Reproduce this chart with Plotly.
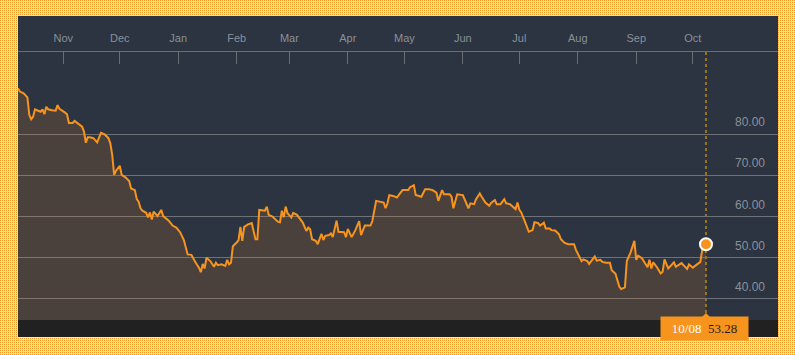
import base64
import pandas as pd
import plotly.graph_objects as go

dates = [
    "2014-10-08", "2014-10-09", "2014-10-11", "2014-10-13", "2014-10-14", "2014-10-15", "2014-10-16",
    "2014-10-17", "2014-10-19", "2014-10-20", "2014-10-21", "2014-10-22", "2014-10-23", "2014-10-24",
    "2014-10-26", "2014-10-28", "2014-10-29", "2014-10-30", "2014-11-02", "2014-11-03", "2014-11-04",
    "2014-11-06", "2014-11-07", "2014-11-09", "2014-11-11", "2014-11-12", "2014-11-13", "2014-11-14",
    "2014-11-15", "2014-11-17", "2014-11-19", "2014-11-21", "2014-11-23", "2014-11-25", "2014-11-26",
    "2014-11-27", "2014-11-28", "2014-11-29", "2014-12-01", "2014-12-02", "2014-12-04", "2014-12-06",
    "2014-12-07", "2014-12-09", "2014-12-10", "2014-12-11", "2014-12-12", "2014-12-13", "2014-12-15",
    "2014-12-16", "2014-12-17", "2014-12-18", "2014-12-19", "2014-12-21", "2014-12-23", "2014-12-24",
    "2014-12-27", "2014-12-29", "2014-12-31", "2015-01-02", "2015-01-04", "2015-01-06", "2015-01-08",
    "2015-01-10", "2015-01-12", "2015-01-13", "2015-01-14", "2015-01-15", "2015-01-16", "2015-01-18",
    "2015-01-20", "2015-01-21", "2015-01-22", "2015-01-24", "2015-01-26", "2015-01-27", "2015-01-28",
    "2015-01-29", "2015-01-30", "2015-02-01", "2015-02-02", "2015-02-03", "2015-02-04", "2015-02-05",
    "2015-02-07", "2015-02-09", "2015-02-11", "2015-02-12", "2015-02-13", "2015-02-16", "2015-02-17",
    "2015-02-18", "2015-02-20", "2015-02-23", "2015-02-24", "2015-02-25", "2015-02-26", "2015-02-27",
    "2015-02-28", "2015-03-02", "2015-03-03", "2015-03-05", "2015-03-07", "2015-03-08", "2015-03-10",
    "2015-03-11", "2015-03-12", "2015-03-13", "2015-03-15", "2015-03-16", "2015-03-18", "2015-03-19",
    "2015-03-20", "2015-03-22", "2015-03-23", "2015-03-24", "2015-03-26", "2015-03-27", "2015-03-30",
    "2015-03-31", "2015-04-01", "2015-04-03", "2015-04-05", "2015-04-07", "2015-04-08", "2015-04-10",
    "2015-04-13", "2015-04-14", "2015-04-16", "2015-04-19", "2015-04-20", "2015-04-21", "2015-04-22",
    "2015-04-23", "2015-04-25", "2015-04-27", "2015-04-30", "2015-05-03", "2015-05-04", "2015-05-06",
    "2015-05-07", "2015-05-10", "2015-05-12", "2015-05-14", "2015-05-16", "2015-05-18", "2015-05-19",
    "2015-05-21", "2015-05-22", "2015-05-25", "2015-05-26", "2015-05-27", "2015-05-29", "2015-06-01",
    "2015-06-02", "2015-06-04", "2015-06-05", "2015-06-07", "2015-06-08", "2015-06-10", "2015-06-11",
    "2015-06-13", "2015-06-15", "2015-06-16", "2015-06-18", "2015-06-19", "2015-06-21", "2015-06-23",
    "2015-06-24", "2015-06-26", "2015-06-29", "2015-06-30", "2015-07-01", "2015-07-02", "2015-07-04",
    "2015-07-06", "2015-07-08", "2015-07-09", "2015-07-11", "2015-07-12", "2015-07-14", "2015-07-15",
    "2015-07-17", "2015-07-18", "2015-07-20", "2015-07-22", "2015-07-23", "2015-07-25", "2015-07-27",
    "2015-07-30", "2015-07-31", "2015-08-02", "2015-08-03", "2015-08-04", "2015-08-06", "2015-08-07",
    "2015-08-10", "2015-08-11", "2015-08-13", "2015-08-14", "2015-08-16", "2015-08-18", "2015-08-19",
    "2015-08-21", "2015-08-22", "2015-08-23", "2015-08-24", "2015-08-26", "2015-08-27", "2015-08-29",
    "2015-08-31", "2015-09-01", "2015-09-02", "2015-09-04", "2015-09-07", "2015-09-08", "2015-09-09",
    "2015-09-10", "2015-09-12", "2015-09-14", "2015-09-15", "2015-09-16", "2015-09-18", "2015-09-21",
    "2015-09-22", "2015-09-25", "2015-09-28", "2015-09-29", "2015-10-01", "2015-10-03", "2015-10-05",
    "2015-10-06", "2015-10-07", "2015-10-08",
]

prices = [
    91.1, 90.3, 89.9, 88.9, 84.6, 83.6, 84.2,
    86.0, 85.6, 85.4, 86.0, 84.8, 86.6, 86.0,
    85.8, 85.7, 87.0, 86.1, 85.2, 84.8, 82.7,
    82.7, 83.2, 82.6, 81.8, 80.6, 77.9, 79.2,
    79.2, 79.0, 78.0, 80.3, 79.9, 79.0, 77.7,
    74.9, 70.1, 71.1, 72.3, 70.1, 69.5, 68.6,
    66.8, 66.4, 64.2, 63.6, 62.0, 61.4, 60.9,
    59.8, 61.0, 59.3, 61.2, 60.1, 61.6, 60.1,
    59.0, 57.8, 57.3, 56.2, 54.3, 50.8, 50.7,
    49.0, 47.6, 46.5, 48.5, 47.4, 50.0, 49.2,
    47.8, 48.8, 48.2, 48.4, 48.0, 49.5, 48.4,
    48.8, 52.8, 53.7, 54.3, 57.5, 54.1, 57.5,
    58.1, 58.4, 54.5, 54.5, 61.6, 61.4, 62.4,
    60.4, 60.0, 58.7, 58.6, 61.4, 59.8, 62.4,
    60.8, 59.8, 60.9, 60.4, 59.3, 58.6, 56.5,
    57.3, 56.9, 54.5, 54.1, 53.3, 55.8, 54.3,
    55.3, 55.5, 55.9, 55.0, 59.0, 56.3, 56.2,
    55.0, 57.0, 55.0, 56.7, 58.9, 55.5, 57.8,
    57.8, 58.9, 63.8, 63.4, 63.4, 62.0, 63.2,
    65.2, 65.0, 64.6, 66.4, 66.4, 67.1, 67.6,
    65.2, 64.8, 66.6, 66.6, 66.4, 65.8, 63.8,
    66.4, 65.4, 65.4, 64.8, 62.0, 65.4, 65.2,
    64.2, 62.0, 63.2, 63.0, 64.2, 65.6, 64.8,
    63.4, 62.6, 63.3, 64.0, 63.0, 63.0, 64.2,
    63.2, 63.0, 61.8, 63.4, 61.6, 61.0, 58.7,
    56.3, 56.7, 58.6, 58.4, 57.8, 58.5, 57.1,
    57.1, 56.7, 56.6, 55.7, 54.5, 53.6, 53.3,
    53.3, 51.9, 50.0, 49.2, 49.6, 49.2, 48.5,
    50.3, 49.3, 49.5, 49.0, 48.8, 48.8, 47.0,
    46.1, 44.8, 43.0, 42.4, 42.8, 49.2, 51.3,
    54.1, 49.5, 50.5, 49.9, 47.7, 49.5, 47.4,
    48.9, 47.7, 46.2, 46.6, 49.6, 47.4, 48.9,
    47.8, 48.7, 47.3, 48.4, 47.6, 48.4, 49.0,
    51.9, 53.0, 53.28,
]

month_ticks = ["2014-11-01", "2014-12-01", "2015-01-01", "2015-02-01", "2015-03-01", "2015-04-01",
               "2015-05-01", "2015-06-01", "2015-07-01", "2015-08-01", "2015-09-01", "2015-10-01"]
month_labels = ["Nov", "Dec", "Jan", "Feb", "Mar", "Apr", "May", "Jun", "Jul", "Aug", "Sep", "Oct"]
price_ticks = [40, 50, 60, 70, 80]

x_range = ["2014-10-08 00:00", "2015-11-15 05:00"]
y_range = [34.9, 99.9]

PANEL = "#2b3440"
ORANGE = "#f7941d"

W, H = 795, 355
ML, MR, MT, MB = 18, 17, 52, 35
PW, PH = W - ML - MR, H - MT - MB

# dotted orange page background as an inline svg pattern
svg = (
    f"<svg xmlns='http://www.w3.org/2000/svg' width='{W}' height='{H}' shape-rendering='crispEdges'>"
    "<defs><pattern id='p' width='2' height='2' patternUnits='userSpaceOnUse'>"
    "<rect width='2' height='2' fill='#fde6c0'/>"
    f"<rect width='1' height='1' fill='{ORANGE}'/></pattern></defs>"
    f"<rect width='{W}' height='{H}' fill='url(#p)'/></svg>"
)
bg_src = "data:image/svg+xml;base64," + base64.b64encode(svg.encode()).decode()

last_date = pd.Timestamp(dates[-1])
last_val = prices[-1]

fig = go.Figure()
fig.add_trace(go.Scatter(
    x=dates, y=prices, mode="lines",
    line=dict(color=ORANGE, width=2),
    fill="tozeroy", fillcolor="rgba(230,130,40,0.17)",
    hoverinfo="skip",
))
fig.add_trace(go.Scatter(
    x=[dates[-1]], y=[last_val], mode="markers",
    marker=dict(size=12, color=ORANGE, line=dict(color="white", width=2)),
    hoverinfo="skip",
))

panel_top = 1 + 36 / PH
strip_bot = -17 / PH

shapes = [
    dict(type="rect", xref="paper", yref="paper", x0=0, x1=1, y0=strip_bot, y1=panel_top,
         fillcolor=PANEL, line=dict(width=0), layer="below"),
    dict(type="rect", xref="paper", yref="paper", x0=0, x1=1, y0=strip_bot, y1=0,
         fillcolor="#212121", line=dict(width=0), layer="above"),
    dict(type="line", xref="x", yref="paper", x0=dates[-1], x1=dates[-1], y0=7 / PH, y1=1,
         line=dict(color="#9a7420", width=2, dash="dot"), layer="below"),
]

fig.update_layout(
    width=W, height=H,
    margin=dict(l=ML, r=MR, t=MT, b=MB, autoexpand=False),
    paper_bgcolor="#fde6c0",
    plot_bgcolor=PANEL,
    showlegend=False,
    images=[dict(source=bg_src, xref="paper", yref="paper",
                 x=-ML / PW, y=1 + MT / PH, sizex=W / PW, sizey=H / PH,
                 xanchor="left", yanchor="top", sizing="stretch", layer="below")],
    shapes=shapes,
    xaxis=dict(
        type="date", range=x_range, side="top",
        tickvals=["2014-10-08 06:00"] + month_ticks + ["2015-11-14 22:00"],
        ticktext=[""] + month_labels + [""],
        ticks="inside", ticklen=12, tickwidth=1, tickcolor="#6a6e73",
        showline=True, linecolor="#6a6e73", linewidth=1,
        showgrid=False, zeroline=False,
        tickfont=dict(family="Liberation Sans, Arial, sans-serif", size=11, color="#8a9098"),
        ticklabelstandoff=5,
    ),
    yaxis=dict(
        range=y_range, side="right",
        tickvals=price_ticks, tickformat=".2f",
        ticklabelposition="inside", ticklabelshift=-12, ticklabelstandoff=10,
        ticks="", showgrid=True, gridcolor="#6e7278", gridwidth=1,
        zeroline=False, showline=False,
        tickfont=dict(family="Liberation Sans, Arial, sans-serif", size=12, color="#8a9098"),
    ),
)

# pointer triangle above the value tag
fig.add_shape(type="path", xref="x", yref="paper", xsizemode="pixel", ysizemode="pixel",
              xanchor=dates[-1], yanchor=0, path="M -7 0 L 0 7 L 7 0 Z",
              fillcolor=ORANGE, line=dict(width=0), layer="above")

fig.add_annotation(
    x=dates[-1], xref="x", y=strip_bot / 2, yref="paper",
    text=(f"<span style='color:#ffffff'>{last_date:%m/%d}</span>&nbsp;&nbsp;"
          f"<span style='color:#1e1e1e'>{last_val:.2f}</span>"),
    showarrow=False, bgcolor=ORANGE, width=81, height=17, borderpad=3,
    font=dict(family="Liberation Serif, Times New Roman, serif", size=13),
    xanchor="center", yanchor="middle", xshift=-1,
)

fig.write_html("out.html")
